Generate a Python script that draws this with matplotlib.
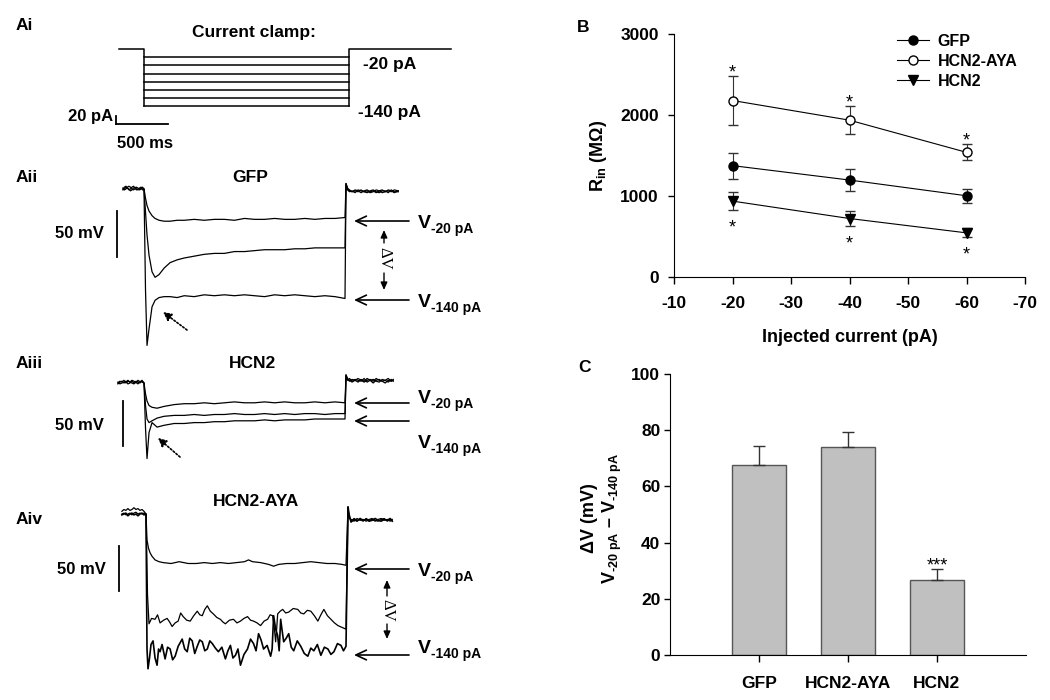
import matplotlib
matplotlib.use("Agg")
import matplotlib.pyplot as plt

plt.rcParams['font.family'] = ['Liberation Sans', 'DejaVu Sans']
plt.rcParams['font.weight'] = 'bold'
plt.rcParams['axes.labelweight'] = 'bold'
plt.rcParams['axes.unicode_minus'] = False
plt.rcParams['mathtext.fontset'] = 'custom'
plt.rcParams['mathtext.rm'] = 'Liberation Sans:bold'
plt.rcParams['mathtext.bf'] = 'Liberation Sans:bold'
plt.rcParams['mathtext.it'] = 'Liberation Sans:bold:italic'

# ---- Ai: current clamp protocol (pA, ms)
ai_levels = [-20, -40, -60, -80, -100, -120, -140]
ai_t_start, ai_t_end = -245, 2995
pulse_on, pulse_off = 0, 2000

# ---- Aii: GFP traces (ms, mV from rest)
gfp_pre_t = [-210, -195, -180, -165, -150, -135, -120, -105, -90, -75, -60, -45, -30, -15, 0]
gfp_pre_a = [0, 2, 3, 1, -1, 0, 2, 3, 1, -1, 0, 1, 2, 1, 0]
gfp_pre_b = [1, -1, 0, 2, 3, 2, 0, -1, 0, 2, 1, -1, 0, 2, 0]
gfp_pre_c = [-1, 0, 2, 1, 0, -2, -1, 1, 2, 0, -1, 0, 1, -1, 0]
gfp_t = [0, 15, 30, 50, 80, 110, 150, 200, 260, 330, 400, 500, 600, 700, 800, 900, 1000,
         1100, 1200, 1300, 1400, 1500, 1600, 1700, 1800, 1900, 2000]
gfp_20 = [0, -10, -18, -24, -29, -32, -34, -35, -35, -34, -34, -33, -34, -33, -33, -34, -32,
          -33, -33, -32, -33, -33, -32, -33, -32, -32, -31]
gfp_mid = [0, -25, -50, -72, -90, -96, -93, -86, -80, -77, -75, -73, -71, -70, -70, -68, -68,
           -67, -66, -66, -66, -65, -65, -64, -64, -64, -64]
gfp_140 = [0, -110, -170, -152, -128, -121, -118, -117, -117, -118, -116, -117, -115, -116, -115,
           -116, -115, -116, -117, -115, -116, -115, -116, -117, -116, -117, -119]
gfp_post_t = [2010, 2025, 2045, 2070, 2100, 2130, 2160, 2190, 2220, 2250, 2280, 2310, 2340,
              2370, 2400, 2430, 2460, 2490, 2530]
gfp_post_a = [6, 0, -2, -3, -1, -2, -4, -2, -1, -3, -2, -4, -2, -1, -3, -2, -3, -1, -2]
gfp_post_b = [5, -1, -3, -2, -4, -1, -2, -3, -4, -2, -1, -3, -4, -2, -2, -4, -1, -3, -3]
gfp_post_c = [6, 1, -1, -3, -2, -3, -1, -3, -2, -4, -3, -1, -2, -4, -3, -1, -2, -4, -2]

# ---- Aiii: HCN2 traces
hcn2_pre_t = [-260, -240, -220, -200, -180, -160, -140, -120, -100, -80, -60, -40, -20, 0]
hcn2_pre_a = [0, 2, 1, 3, 0, 2, 1, 3, 2, 0, 3, 1, 2, 0]
hcn2_pre_b = [1, -1, 0, 1, 2, -1, 0, 2, 0, 1, -1, 2, 1, 0]
hcn2_pre_c = [-1, 1, 2, 0, 1, 3, 1, 0, -1, 2, 1, 0, 3, 0]
hcn2_t = [0, 15, 30, 50, 80, 130, 200, 300, 400, 500, 600, 700, 800, 900, 1000, 1100, 1200,
          1300, 1400, 1500, 1600, 1700, 1800, 1900, 2000]
hcn2_20 = [0, -12, -20, -25, -27, -28, -26, -24, -23, -23, -22, -23, -22, -21, -22, -22, -21,
           -22, -21, -22, -22, -21, -22, -21, -22]
hcn2_mid = [0, -25, -40, -44, -42, -39, -37, -36, -36, -35, -36, -35, -35, -34, -35, -35, -34,
            -35, -34, -35, -34, -34, -35, -34, -34]
hcn2_140 = [0, -50, -84, -55, -44, -49, -47, -45, -45, -44, -44, -43, -43, -42, -42, -42, -41,
            -42, -41, -41, -41, -40, -40, -40, -40]
hcn2_post_t = [2010, 2025, 2045, 2070, 2100, 2130, 2160, 2190, 2220, 2250, 2280, 2310, 2340,
               2370, 2400, 2430, 2460, 2480]
hcn2_post_a = [9, 4, 2, 4, 3, 1, 4, 2, 5, 3, 0, 3, 4, 2, 3, 5, 2, 3]
hcn2_post_b = [8, 3, 5, 2, 4, 3, 2, 5, 1, 3, 4, 2, 1, 4, 3, 1, 4, 2]
hcn2_post_c = [9, 5, 3, 1, 3, 5, 3, 1, 3, 4, 2, 5, 3, 2, 0, 3, 2, 4]

# ---- Aiv: HCN2-AYA traces
aya_pre_t = [-240, -220, -200, -180, -160, -140, -120, -100, -80, -60, -40, -20, 0]
aya_pre_a = [3, 5, 4, 6, 4, 5, 7, 5, 6, 4, 5, 3, 0]
aya_pre_b = [0, 1, -1, 0, 1, -1, 1, 2, 0, 1, 0, 1, 0]
aya_pre_c = [-1, 0, 1, -2, 0, 1, -1, 0, -2, 0, 1, -1, 0]
aya_20_t = [0, 10, 25, 40, 60, 90, 130, 170, 250, 330, 420, 500, 580, 660, 740, 820, 900, 980,
            1020, 1060, 1140, 1220, 1270, 1320, 1400, 1480, 1560, 1640, 1720, 1800, 1880, 1950, 1990]
aya_20_v = [0, -29, -38, -43, -47, -51, -53, -54, -55, -53, -55, -55, -54, -55, -54, -55, -54, -53,
            -51, -53, -54, -56, -58, -56, -55, -55, -54, -53, -54, -55, -55, -56, -57]
aya_mid_t = [0, 15, 30, 55, 90, 115, 140, 175, 210, 235,
             260, 290, 320, 345, 370, 405, 440, 475, 510, 535,
             560, 585, 610, 640, 670, 705, 740, 765, 790, 830,
             870, 905, 940, 975, 1010, 1040, 1070, 1105, 1140, 1175,
             1210, 1235, 1260, 1275, 1290, 1300, 1310, 1335, 1360, 1390,
             1420, 1465, 1510, 1540, 1570, 1605, 1640, 1675, 1710, 1740,
             1770, 1805, 1840, 1875, 1910, 1950, 1990]
aya_mid_v = [0, -90, -122, -116, -117, -112, -121, -118, -116, -120,
             -125, -121, -119, -110, -114, -118, -119, -113, -108, -112,
             -113, -106, -102, -108, -111, -115, -117, -120, -122, -118,
             -117, -121, -119, -116, -114, -118, -119, -121, -124, -119,
             -117, -112, -113, -125, -142, -128, -111, -108, -106, -110,
             -109, -105, -106, -110, -111, -107, -108, -113, -119, -112,
             -106, -113, -117, -121, -124, -126, -128]
aya_140_t = [0, 10, 20, 35, 50, 70, 90, 110, 125, 140,
             160, 190, 215, 240, 265, 290, 320, 360, 385, 410,
             435, 460, 485, 510, 535, 560, 585, 610, 635, 660,
             690, 720, 755, 790, 815, 840, 865, 890, 915, 940,
             975, 1010, 1040, 1070, 1095, 1120, 1145, 1170, 1205, 1240,
             1255, 1270, 1290, 1310, 1325, 1340, 1355, 1370, 1395, 1420,
             1445, 1470, 1505, 1540, 1575, 1610, 1640, 1670, 1705, 1740,
             1775, 1810, 1840, 1870, 1905, 1940, 1965, 1990]
aya_140_v = [0, -150, -172, -160, -145, -141, -160, -168, -150, -153,
             -145, -161, -148, -150, -162, -158, -147, -139, -150, -153,
             -138, -141, -155, -147, -140, -142, -152, -150, -141, -144,
             -149, -153, -148, -161, -152, -146, -160, -157, -150, -168,
             -156, -150, -139, -144, -152, -133, -140, -150, -146, -158,
             -150, -113, -128, -135, -152, -117, -130, -142, -138, -133,
             -148, -152, -141, -147, -155, -158, -149, -152, -145, -157,
             -148, -150, -156, -153, -144, -146, -152, -147]
aya_post_t = [2010, 2020, 2040, 2070, 2100, 2130, 2160, 2190, 2220, 2250, 2280, 2310, 2340,
              2370, 2400, 2430, 2450]
aya_post_a = [7, -2, -8, -5, -7, -6, -8, -5, -7, -6, -8, -6, -5, -7, -6, -8, -6]
aya_post_b = [6, -4, -6, -8, -5, -7, -6, -8, -6, -5, -7, -8, -6, -5, -8, -6, -7]
aya_post_c = [8, 0, -9, -6, -8, -5, -7, -6, -8, -7, -5, -7, -8, -6, -7, -5, -8]

# ---- B: input resistance (MOhm) vs injected current
inj_current = [-20, -40, -60]
gfp_rin = [1375, 1197, 1003]
gfp_rin_err = [160, 140, 87]
aya_rin = [2179, 1936, 1539]
aya_rin_err = [305, 170, 100]
hcn2_rin = [937, 722, 545]
hcn2_rin_err = [115, 90, 55]

# ---- C: delta V (mV)
groups = ['GFP', 'HCN2-AYA', 'HCN2']
dv = [67.5, 74.1, 26.6]
dv_err = [7.0, 5.4, 4.1]

W, H = 1050, 700
fig = plt.figure(figsize=(10.5, 7), dpi=100)


def trace_axes(x0, y0, xs, ys):
    # full-figure axes: data origin at pixel (x0, y0), xs units/px, ys units/px
    ax = fig.add_axes([0, 0, 1, 1])
    ax.set_xlim(-x0 * xs, (W - x0) * xs)
    ax.set_ylim(-(H - y0) * ys, y0 * ys)
    ax.axis('off')
    return ax


def draw(ax, pre_t, pre_v, t, v, post_t, post_v, lw=0.9):
    ax.plot(pre_t + t + post_t, pre_v + v + post_v, color='k', lw=lw)


def bold_ticks(ax):
    for lab in ax.get_xticklabels() + ax.get_yticklabels():
        lab.set_fontweight('bold')


# Ai
ai = trace_axes(144, 49, 2000 / 205, 20 / 8.2)
for lvl in ai_levels:
    ai.plot([pulse_on, pulse_off], [lvl, lvl], color='k', lw=1.1)
ai.plot([ai_t_start, pulse_on, pulse_on], [0, 0, min(ai_levels)], color='k', lw=1.1)
ai.plot([pulse_off, pulse_off, ai_t_end], [min(ai_levels), 0, 0], color='k', lw=1.1)
ai.plot([-270, 230], [-183, -183], color='k', lw=1.3)   # 500 ms
ai.plot([-270, -270], [-183, -163], color='k', lw=1.3)  # 20 pA

# Aii
ga = trace_axes(144, 189, 9.95, 50 / 46)
draw(ga, gfp_pre_t, gfp_pre_a, gfp_t, gfp_20, gfp_post_t, gfp_post_a)
draw(ga, gfp_pre_t, gfp_pre_b, gfp_t, gfp_mid, gfp_post_t, gfp_post_b)
draw(ga, gfp_pre_t, gfp_pre_c, gfp_t, gfp_140, gfp_post_t, gfp_post_c)
ga.plot([-270, -270], [-24, -74], color='k', lw=1.3)

# Aiii
ha = trace_axes(144, 383, 9.95, 50 / 45)
draw(ha, hcn2_pre_t, hcn2_pre_a, hcn2_t, hcn2_20, hcn2_post_t, hcn2_post_a)
draw(ha, hcn2_pre_t, hcn2_pre_b, hcn2_t, hcn2_mid, hcn2_post_t, hcn2_post_b)
draw(ha, hcn2_pre_t, hcn2_pre_c, hcn2_t, hcn2_140, hcn2_post_t, hcn2_post_c)
ha.plot([-209, -209], [-20, -70], color='k', lw=1.3)

# Aiv
aa = trace_axes(146, 514, 9.95, 50 / 45)
draw(aa, aya_pre_t, aya_pre_a, aya_20_t, aya_20_v, aya_post_t, aya_post_a)
draw(aa, aya_pre_t, aya_pre_b, aya_mid_t, aya_mid_v, aya_post_t, aya_post_b)
draw(aa, aya_pre_t, aya_pre_c, aya_140_t, aya_140_v, aya_post_t, aya_post_c, lw=1.2)
aa.plot([-269, -269], [-36, -86], color='k', lw=1.3)

# ---- B
bx = fig.add_axes([674 / W, 1 - 277 / H, (1025 - 674) / W, (277 - 34) / H])
ecol = '#333333'
l1 = bx.errorbar(inj_current, gfp_rin, yerr=gfp_rin_err, fmt='-o', color='k', mfc='k', mec='k',
                 ms=6.5, lw=0.8, ecolor=ecol, elinewidth=0.8, capsize=3.5)
l2 = bx.errorbar(inj_current, aya_rin, yerr=aya_rin_err, fmt='-o', color='k', mfc='white', mec='k',
                 ms=6.5, lw=0.8, ecolor=ecol, elinewidth=0.8, capsize=3.5)
l3 = bx.errorbar(inj_current, hcn2_rin, yerr=hcn2_rin_err, fmt='-v', color='k', mfc='k', mec='k',
                 ms=6.5, lw=0.8, ecolor=ecol, elinewidth=0.8, capsize=3.5)
for x, m, e in zip(inj_current, aya_rin, aya_rin_err):
    bx.annotate('*', (x, m + e), xytext=(0, -1), textcoords='offset points',
                ha='center', va='baseline', fontsize=13, fontweight='normal')
for x, m, e in zip(inj_current, hcn2_rin, hcn2_rin_err):
    bx.annotate('*', (x, m - e), xytext=(0, -16), textcoords='offset points',
                ha='center', va='baseline', fontsize=13, fontweight='normal')
bx.set_xlim(-10, -70)
bx.set_ylim(0, 3000)
bx.set_xticks([-10, -20, -30, -40, -50, -60, -70])
bx.set_yticks([0, 1000, 2000, 3000])
bold_ticks(bx)
bx.spines['top'].set_visible(False)
bx.spines['right'].set_visible(False)
bx.tick_params(axis='x', direction='out', length=5, width=1, labelsize=12.5, pad=9)
bx.tick_params(axis='y', direction='out', length=4, width=1, labelsize=12.5, pad=7)
bx.set_xlabel('Injected current (pA)', fontsize=13, labelpad=13)
bx.set_ylabel(r'R$_{\mathbf{in}}$ (MΩ)', fontsize=13, labelpad=8)
bx.legend([l1[0], l2[0], l3[0]], ['GFP', 'HCN2-AYA', 'HCN2'], loc='upper left',
          bbox_to_anchor=(0.635, 1.0), frameon=False, borderpad=0, borderaxespad=0,
          handlelength=2.0, handletextpad=0.55, labelspacing=0.3, fontsize=11.5)

# ---- C
cx = fig.add_axes([670 / W, 1 - 655 / H, (1026 - 670) / W, (655 - 374) / H])
pos = [1, 2, 3]
cx.bar(pos, dv, width=0.6, color='#c0c0c0', edgecolor='#555555', lw=1)
cx.errorbar(pos, dv, yerr=[[0, 0, 0], dv_err], fmt='none', ecolor=ecol, elinewidth=1, capsize=4)
cx.annotate('***', (pos[2], dv[2] + dv_err[2]), xytext=(0, -1), textcoords='offset points',
            ha='center', va='baseline', fontsize=13, fontweight='normal')
cx.set_xlim(0, 4)
cx.set_ylim(0, 100)
cx.set_xticks(pos)
cx.set_xticklabels(groups)
cx.set_yticks([0, 20, 40, 60, 80, 100])
bold_ticks(cx)
cx.spines['top'].set_visible(False)
cx.spines['right'].set_visible(False)
cx.tick_params(axis='x', direction='out', length=5, width=1, labelsize=12.5, pad=10)
cx.tick_params(axis='y', direction='out', length=4, width=1, labelsize=12.5, pad=3)

# ---- overlay for labels, arrows (pixel coordinates)
ov = fig.add_axes([0, 0, 1, 1])
ov.set_xlim(0, W)
ov.set_ylim(H, 0)
ov.axis('off')

fs = 12.5
ov.text(16, 25, 'Ai', ha='left', va='center', fontsize=fs)
ov.text(254, 32, 'Current clamp:', ha='center', va='center', fontsize=fs)
ov.text(363, 64, '-20 pA', ha='left', va='center', fontsize=fs)
ov.text(358, 112, '-140 pA', ha='left', va='center', fontsize=fs)
ov.text(113, 117, '20 pA', ha='right', va='center', fontsize=12)
ov.text(117, 143, '500 ms', ha='left', va='center', fontsize=12)

ov.text(16, 178, 'Aii', ha='left', va='center', fontsize=fs)
ov.text(250, 178, 'GFP', ha='center', va='center', fontsize=fs)
ov.text(55, 233, '50 mV', ha='left', va='center', fontsize=12)

ov.text(16, 363, 'Aiii', ha='left', va='center', fontsize=fs)
ov.text(253, 363, 'HCN2', ha='center', va='center', fontsize=fs)
ov.text(55, 425, '50 mV', ha='left', va='center', fontsize=12)

ov.text(16, 520, 'Aiv', ha='left', va='center', fontsize=fs)
ov.text(256, 502, 'HCN2-AYA', ha='center', va='center', fontsize=fs)
ov.text(57, 570, '50 mV', ha='left', va='center', fontsize=12)

ov.text(577, 28, 'B', ha='left', va='center', fontsize=fs)
ov.text(578, 368, 'C', ha='left', va='center', fontsize=fs)

# C y label (two lines)
ov.text(590, 518, 'ΔV (mV)', rotation=90, ha='center', va='center', fontsize=13)
ov.text(612, 518, '$\\mathbf{V_{\u201020\\ pA}}$ \u2013 $\\mathbf{V_{\u2010140\\ pA}}$', rotation=90,
        ha='center', va='center', fontsize=13)

head = '->,head_length=0.75,head_width=0.35'
v_labels = [(221, 228, '20'), (300, 307, '140'),
            (403, 403, '20'), (421, 448, '140'),
            (569, 576, '20'), (655, 653, '140')]
for ya, yt, lvl in v_labels:
    ov.annotate('', xy=(354, ya), xytext=(409, ya),
                arrowprops=dict(arrowstyle=head, lw=1.2, color='k', shrinkA=0, shrinkB=0))
    ov.text(418, yt, 'V', ha='left', va='baseline', fontsize=14)
    ov.text(431, yt + 5, '-' + lvl + ' pA', ha='left', va='baseline', fontsize=10)

small = '-|>,head_length=0.45,head_width=0.2'
for x, top, t0, tc, b0, bot in [(384, 230, 243, 258, 273, 290), (387, 580, 596, 610, 624, 639)]:
    ov.annotate('', xy=(x, top), xytext=(x, t0),
                arrowprops=dict(arrowstyle=small, lw=1, color='k', shrinkA=0, shrinkB=0))
    ov.annotate('', xy=(x, bot), xytext=(x, b0),
                arrowprops=dict(arrowstyle=small, lw=1, color='k', shrinkA=0, shrinkB=0))
    ov.text(x, tc, 'ΔV', rotation=-90, ha='center', va='center', fontsize=12,
            family=['Liberation Serif', 'DejaVu Serif'], fontweight='normal')

dot = '-|>,head_length=0.5,head_width=0.25'
for (x1, y1), (x2, y2) in [((187, 330), (163, 312)), ((180, 457), (158, 438))]:
    ov.annotate('', xy=(x2, y2), xytext=(x1, y1),
                arrowprops=dict(arrowstyle=dot, lw=1.2, color='k', linestyle=(0, (1, 1.2)),
                                shrinkA=0, shrinkB=0))

fig.savefig('out.png', dpi=100, facecolor='white')
